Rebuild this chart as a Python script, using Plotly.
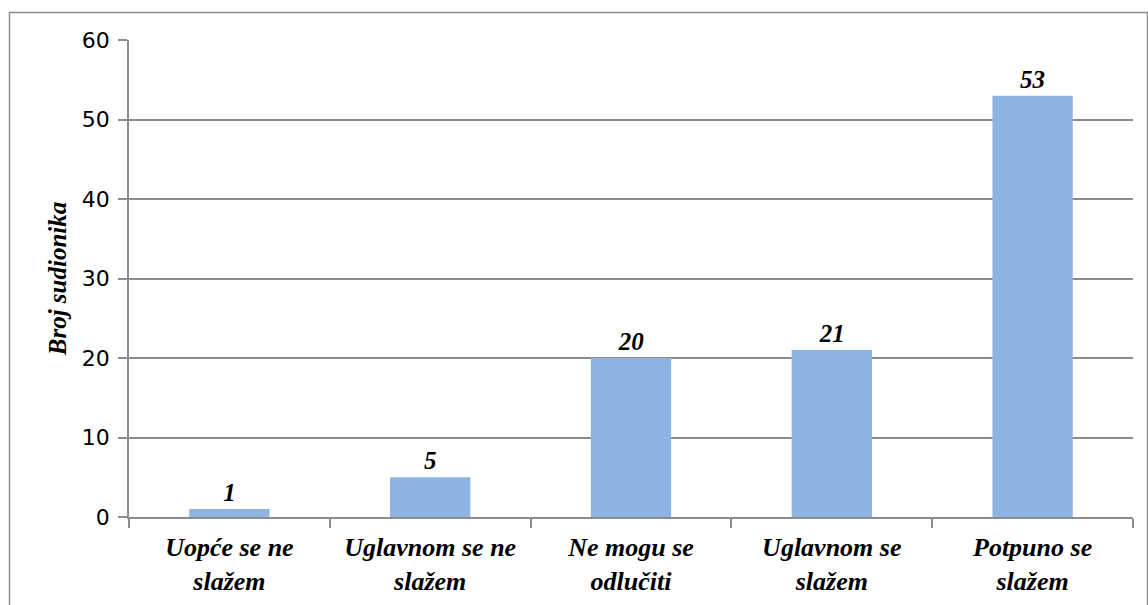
import plotly.graph_objects as go

categories = ["Uopće se ne<br>slažem", "Uglavnom se ne<br>slažem", "Ne mogu se<br>odlučiti",
              "Uglavnom se<br>slažem", "Potpuno se<br>slažem"]
values = [1, 5, 20, 21, 53]
y_ticks = [0, 10, 20, 30, 40, 50, 60]

W, H = 1148, 605
L, R, T, B = 129, 15, 40, 88
pw = W - L - R
ph = H - T - B

SERIF = "Liberation Serif, Times New Roman, serif"

fig = go.Figure(go.Bar(
    x=categories, y=values, width=0.4,
    marker=dict(color="#8EB4E3", line=dict(width=0)),
    text=[str(v) for v in values], textposition="outside",
    textfont=dict(family=SERIF, size=25, color="black", weight="bold", style="italic"),
    cliponaxis=False,
))

def px2x(px):
    return (px - L) / pw

def py2y(py):
    return (H - B - py) / ph

fig.add_shape(type="rect", xref="paper", yref="paper",
              x0=px2x(9.5), x1=px2x(1147.5), y0=py2y(620), y1=py2y(12.5),
              line=dict(color="#8c8c8c", width=1.5), fillcolor="rgba(0,0,0,0)")

fig.update_layout(
    width=W, height=H, margin=dict(l=L, r=R, t=T, b=B, autoexpand=False),
    plot_bgcolor="white", paper_bgcolor="white", showlegend=False,
    xaxis=dict(type="category", tickson="boundaries", ticks="outside", ticklen=9,
               tickcolor="#8c8c8c", tickwidth=1.5, showline=True, linecolor="#8c8c8c",
               linewidth=1.5, showgrid=False, automargin=False, ticklabelstandoff=6,
               tickfont=dict(family=SERIF, size=26, color="black", weight="bold", style="italic")),
    yaxis=dict(range=[0, 60], tickvals=y_ticks, ticks="outside", ticklen=9,
               tickcolor="#8c8c8c", tickwidth=1.5, showline=True, linecolor="#8c8c8c",
               linewidth=1.5, gridcolor="#8c8c8c", gridwidth=1.5, zeroline=False,
               automargin=False, ticklabelstandoff=4,
               tickfont=dict(family="DejaVu Sans", size=22, color="black"),
               title=dict(text="Broj sudionika", standoff=8,
                          font=dict(family=SERIF, size=25, color="black", weight="bold", style="italic"))),
)

fig.write_html("out.html", config={"displayModeBar": False},
               post_script="document.body.style.margin='0';")
